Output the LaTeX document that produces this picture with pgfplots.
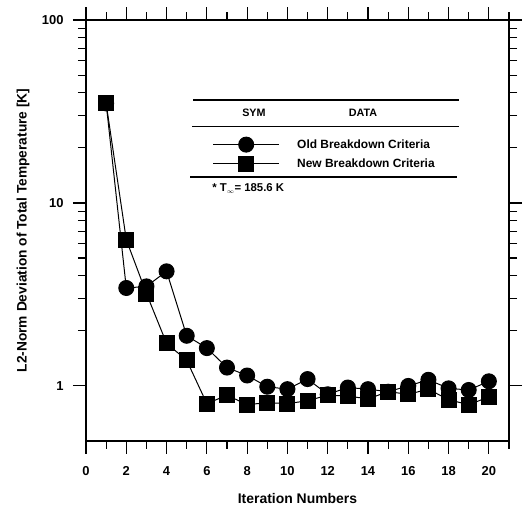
\documentclass[border=0pt]{standalone}
\usepackage{pgfplots}
\pgfplotsset{compat=1.18}
\usepackage{fontspec}
\setmainfont{Liberation Sans}
\begin{document}
\begin{tikzpicture}
\begin{axis}[
  scale only axis,
  width=423bp, height=421bp,
  xmin=0, xmax=21,
  ymin=0.5, ymax=100,
  ymode=log,
  xtick={0,2,...,20},
  minor xtick={1,3,...,21},
  ytick={1,10,100},
  yticklabels={1,10,100},
  tick align=outside,
  tick pos=both,
  xticklabel pos=lower,
  yticklabel pos=left,
  major tick length=13bp,
  minor tick length=8bp,
  every tick/.style={black, line width=1.1pt},
  axis line style={line width=1.3pt},
  /pgf/number format/assume math mode=true,
  tick label style={font=\bfseries\fontsize{13}{13}\selectfont},
  xticklabel style={anchor=center, yshift=-17bp},
  yticklabel style={anchor=east, xshift=-6bp},
  xlabel={Iteration Numbers},
  ylabel={L2-Norm Deviation of Total Temperature [K]},
  xlabel style={font=\bfseries\fontsize{14}{14}\selectfont, at={(rel axis cs:0.5,0)}, anchor=center, yshift=-58bp},
  ylabel style={font=\bfseries\fontsize{13.8}{14}\selectfont, at={(rel axis cs:0,0.5)}, anchor=center, yshift=63bp},
  legend style={at={(rel axis cs:0.292,0.727)}, anchor=north west, draw=none, fill=none,
    font=\bfseries\fontsize{12}{12}\selectfont, row sep=4bp,
    legend cell align=left},
  legend image code/.code={\draw[mark repeat=2,mark phase=2] plot coordinates {(0bp,0bp) (33bp,0bp) (66bp,0bp)};\path[draw=none] (0bp,0bp) -- (82bp,0bp);},
]
\coordinate (O) at (rel axis cs:0,0);
\addplot[black, line width=1pt, mark=*, mark size=7.5bp, mark options={solid, fill=black}] coordinates {
(1,35) (2,3.43) (3,3.5) (4,4.23) (5,1.88) (6,1.61) (7,1.26) (8,1.14) (9,0.99) (10,0.96)
(11,1.09) (12,0.90) (13,0.98) (14,0.96) (15,0.93) (16,1.0) (17,1.08) (18,0.97) (19,0.95) (20,1.06)};
\addlegendentry{Old Breakdown Criteria}
\addplot[black, line width=1pt, mark=square*, mark size=7.5bp, mark options={solid, fill=black}] coordinates {
(1,35) (2,6.3) (3,3.2) (4,1.71) (5,1.38) (6,0.80) (7,0.89) (8,0.79) (9,0.81) (10,0.80)
(11,0.83) (12,0.89) (13,0.88) (14,0.85) (15,0.93) (16,0.90) (17,0.96) (18,0.84) (19,0.79) (20,0.87)};
\addlegendentry{New Breakdown Criteria}
\draw[line width=1.1pt] (rel axis cs:0.253,0.81) -- (rel axis cs:0.882,0.81);
\draw[line width=1.1pt] (rel axis cs:0.251,0.748) -- (rel axis cs:0.882,0.748);
\draw[line width=1.1pt] (rel axis cs:0.247,0.627) -- (rel axis cs:0.877,0.627);
\node[font=\bfseries\fontsize{10.8}{12}\selectfont] at (rel axis cs:0.397,0.779) {SYM};
\node[font=\bfseries\fontsize{10.8}{12}\selectfont] at (rel axis cs:0.655,0.779) {DATA};
\node[font=\bfseries\fontsize{11.4}{12}\selectfont, anchor=west, inner sep=0pt] at (rel axis cs:0.298,0.599) {* T\textsubscript{\fontsize{6}{6}\selectfont$\infty$}= 185.6 K};
\end{axis}
\pgfresetboundingbox
\path (O) ++(-86bp,-70bp) rectangle ++(525bp,511bp);
\end{tikzpicture}
\end{document}
